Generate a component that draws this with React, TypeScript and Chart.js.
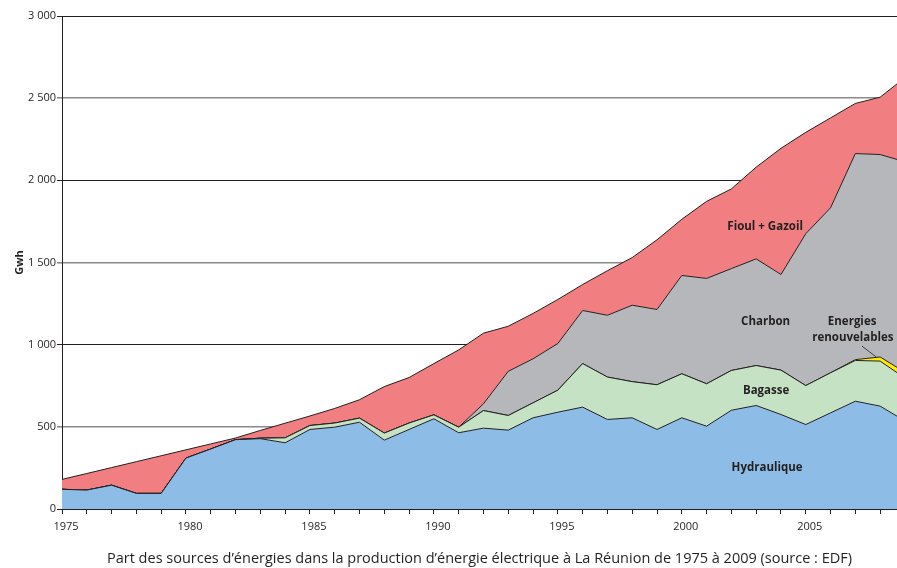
import React, { useEffect, useRef } from 'react';
import { Chart, registerables } from 'chart.js';

Chart.register(...registerables);

const years = [
  1975, 1976, 1977, 1978, 1979, 1980, 1981, 1982, 1983, 1984, 1985, 1986,
  1987, 1988, 1989, 1990, 1991, 1992, 1993, 1994, 1995, 1996, 1997, 1998,
  1999, 2000, 2001, 2002, 2003, 2004, 2005, 2006, 2007, 2008, 2009,
];

const hydraulique = [
  120, 115, 145, 95, 95, 310, 365, 422, 428, 403, 484, 498,
  528, 419, 484, 549, 464, 492, 480, 555, 589, 620, 545, 555,
  484, 555, 504, 601, 630, 575, 514, 585, 656, 626, 536,
];

const bagasse = [
  0, 0, 0, 0, 0, 0, 0, 0, 3, 30, 24, 25,
  25, 43, 39, 24, 34, 107, 89, 91, 134, 265, 258, 220,
  272, 268, 258, 242, 243, 270, 237, 244, 248, 274, 261,
];

const renouvelables = [
  0, 0, 0, 0, 0, 0, 0, 0, 0, 0, 0, 0,
  0, 0, 0, 0, 0, 0, 0, 0, 0, 0, 0, 0,
  0, 0, 0, 0, 0, 0, 0, 0, 5, 25, 35,
];

const charbon = [
  0, 0, 0, 0, 0, 0, 0, 0, 0, 0, 0, 0,
  0, 0, 0, 0, 0, 41, 269, 268, 284, 323, 376, 465,
  458, 598, 641, 620, 649, 582, 924, 1004, 1254, 1232, 1281,
];

const fioul = [
  60, 101, 107, 193, 229, 50, 31, 10, 47, 89, 58, 89,
  112, 283, 277, 312, 470, 430, 274, 276, 268, 158, 271, 290,
  424, 342, 469, 485, 558, 768, 617, 547, 305, 349, 512,
];

const seriesNames = ['Hydraulique', 'Bagasse', 'Energies renouvelables', 'Charbon', 'Fioul + Gazoil'];
const seriesValues = [hydraulique, bagasse, renouvelables, charbon, fioul];
const seriesColors = ['#8DBDE6', '#C5E2C4', '#FFED00', '#B6B7BB', '#F17F82'];

const xTickLabels = [1975, 1980, 1985, 1990, 1995, 2000, 2005];
const xMin = 1975;
const xMax = 2008.68;
const yMax = 3000;
const yStep = 500;

const yTitle = 'Gwh';
const caption =
  'Part des sources d\u2019\u00e9nergies dans la production d\u2019\u00e9nergie \u00e9lectrique \u00e0 La R\u00e9union de 1975 \u00e0 2009 (source : EDF)';

// area labels, placed in data coordinates
const labelTexts = ['Fioul + Gazoil', 'Charbon', 'Energies', 'renouvelables', 'Bagasse', 'Hydraulique'];
const labelYears = [2003.36, 2003.38, 2006.87, 2006.9, 2003.4, 2003.44];
const labelValues = [1715, 1139, 1141, 1045, 721, 254];

// leader line from "renouvelables" to the yellow area
const leaderYears = [2007.27, 2007.85];
const leaderValues = [991, 924];

const FONT = "'Open Sans', sans-serif";
const INK = '#231F20';

const formatThousands = (v: number) => String(v).replace(/\B(?=(\d{3})+(?!\d))/g, ' ');

const areaLabelPlugin = {
  id: 'areaLabels',
  afterDatasetsDraw(chart: any) {
    const { ctx, scales } = chart;
    const x = scales.x;
    const y = scales.y;
    ctx.save();
    ctx.strokeStyle = INK;
    ctx.lineWidth = 0.8;
    ctx.beginPath();
    ctx.moveTo(x.getPixelForValue(leaderYears[0]), y.getPixelForValue(leaderValues[0]));
    ctx.lineTo(x.getPixelForValue(leaderYears[1]), y.getPixelForValue(leaderValues[1]));
    ctx.stroke();
    ctx.fillStyle = INK;
    ctx.font = `bold 11.5px ${FONT}`;
    ctx.textAlign = 'center';
    ctx.textBaseline = 'middle';
    labelTexts.forEach((t, i) => {
      ctx.fillText(t, x.getPixelForValue(labelYears[i]), y.getPixelForValue(labelValues[i]));
    });
    ctx.restore();
  },
};

export default function App() {
  const canvasRef = useRef<HTMLCanvasElement | null>(null);

  useEffect(() => {
    const canvas = canvasRef.current;
    if (!canvas) return;
    const datasets = seriesNames.map((name, i) => ({
      label: name,
      data: years.map((yr, j) => ({ x: yr, y: seriesValues[i][j] })),
      backgroundColor: seriesColors[i],
      borderColor: INK,
      borderWidth: 1,
      pointRadius: 0,
      tension: 0,
      fill: i === 0 ? 'origin' : '-1',
    }));

    const chart = new Chart(canvas, {
      type: 'line',
      data: { datasets },
      plugins: [areaLabelPlugin],
      options: {
        animation: false,
        responsive: false,
        devicePixelRatio: 1,
        layout: { padding: { top: 16, left: 0, right: 0, bottom: 0 } },
        plugins: {
          legend: { display: false },
          tooltip: { enabled: false },
          title: { display: false },
        },
        scales: {
          x: {
            type: 'linear',
            min: xMin,
            max: xMax,
            ticks: {
              stepSize: 1,
              includeBounds: false,
              autoSkip: false,
              maxRotation: 0,
              minRotation: 0,
              labelOffset: 4,
              padding: 6,
              color: INK,
              font: { family: FONT, size: 11 },
              callback: (v: any) => (xTickLabels.includes(Number(v)) ? String(v) : ''),
            },
            grid: {
              drawOnChartArea: false,
              drawTicks: true,
              tickLength: 5,
              color: INK,
              lineWidth: 1,
            },
            border: { display: true, color: INK, width: 1 },
            title: {
              display: true,
              text: caption,
              color: INK,
              font: { family: FONT, size: 14.5 },
              padding: { top: 0, bottom: 0 },
            },
            afterFit: (s: any) => {
              s.height = 59;
            },
          },
          y: {
            stacked: true,
            min: 0,
            max: yMax,
            ticks: {
              stepSize: yStep,
              padding: 1,
              color: INK,
              font: { family: FONT, size: 11 },
              callback: (v: any) => formatThousands(Number(v)),
            },
            grid: {
              color: (c: any) => (c.tick && c.tick.value % 1000 === 0 ? INK : '#8a8a8a'),
              lineWidth: (c: any) => (c.tick && c.tick.value % 1000 === 0 ? 1 : 1.6),
              tickLength: 5,
            },
            border: { display: true, color: INK, width: 1 },
            title: {
              display: true,
              text: yTitle,
              color: INK,
              font: { family: FONT, size: 11, weight: 'bold' },
              padding: { top: 13, bottom: 0 },
            },
            afterFit: (s: any) => {
              s.width = 62;
            },
          },
        },
      } as any,
    });
    return () => chart.destroy();
  }, []);

  return (
    <div style={{ position: 'fixed', left: 0, top: 0, width: 897, height: 568, background: '#fff' }}>
      <canvas ref={canvasRef} width={897} height={568} />
    </div>
  );
}
